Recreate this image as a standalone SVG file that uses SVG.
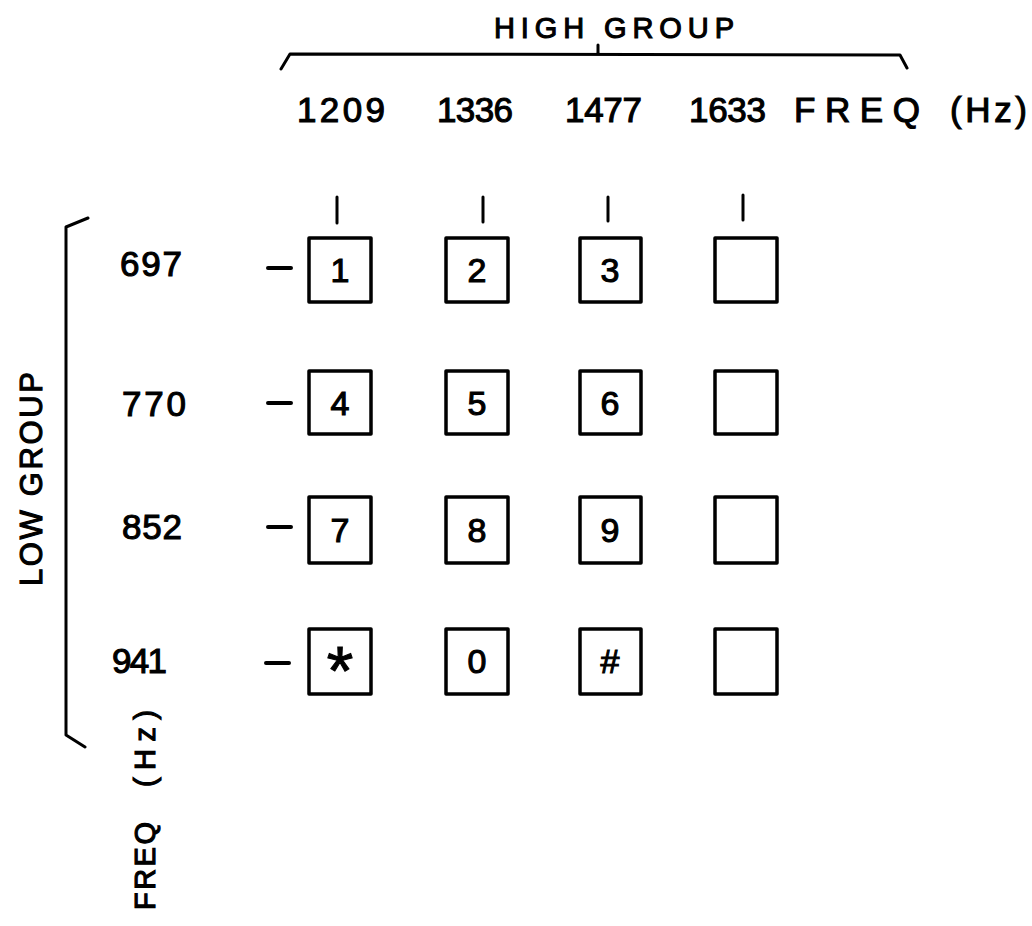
<svg xmlns="http://www.w3.org/2000/svg" width="1032" height="926" viewBox="0 0 1032 926">
<style>
.t{font-family:"Liberation Sans",Arial,sans-serif;fill:#000;stroke:#000;stroke-width:1.1px}
.k{stroke:#000;stroke-width:3.5;fill:none;stroke-linecap:round;stroke-linejoin:round}
.ln{stroke:#000;stroke-width:3;fill:none;stroke-linecap:round;stroke-linejoin:round}
.d{font-family:"Liberation Sans",Arial,sans-serif;fill:#000;stroke:#000;stroke-width:1.1px;text-anchor:middle}
</style>
<rect width="1032" height="926" fill="#fff"/>
<g id="high-group">
<text class="t" x="494" y="38" font-size="29" textLength="240" lengthAdjust="spacing">HIGH GROUP</text>
<path class="ln" d="M281 69 L290 54 L900 55 L907 68 M598 54 L598 45"/>
</g>
<g id="high-freqs" class="t" font-size="35">
<text x="297" y="122" textLength="88" lengthAdjust="spacing">1209</text>
<text x="437" y="122" textLength="76" lengthAdjust="spacing">1336</text>
<text x="565" y="122" textLength="77" lengthAdjust="spacing">1477</text>
<text x="689" y="122" textLength="77" lengthAdjust="spacing">1633</text>
<text x="794" y="122" textLength="126" lengthAdjust="spacing">FREQ</text>
<text x="950" y="122" textLength="77" lengthAdjust="spacing">(Hz)</text>
</g>
<g id="low-group">
<path class="ln" d="M88 218 L66 227 L66 735 L85 747"/>
<text class="t" font-size="31" transform="translate(42 586) rotate(-90)" textLength="214" lengthAdjust="spacing">LOW GROUP</text>
<text class="t" font-size="29" transform="translate(155 910) rotate(-90)" textLength="88" lengthAdjust="spacing">FREQ</text>
<text class="t" font-size="29" transform="translate(155 787) rotate(-90)" textLength="77" lengthAdjust="spacing">(Hz)</text>
</g>
<g id="low-freqs" class="t" font-size="35">
<text x="120" y="276" textLength="62" lengthAdjust="spacing">697</text>
<text x="122" y="416" textLength="64" lengthAdjust="spacing">770</text>
<text x="122" y="539" textLength="60" lengthAdjust="spacing">852</text>
<text x="112" y="673" textLength="55" lengthAdjust="spacing">941</text>
</g>
<g id="connectors" class="ln">
<path d="M337 197 L337 223 M483 197 L483 222 M608 197 L608 221 M743 195 L743 220"/>
<path stroke-width="4" d="M268 268 L291 268 M268 403 L291 403 M268 527 L291 527 M266 663 L289 663"/>
</g>
<g id="key-1"><rect class="k" x="309" y="238" width="62" height="64"/><text class="d" x="340" y="282" font-size="34">1</text></g>
<g id="key-2"><rect class="k" x="446" y="238" width="62" height="64"/><text class="d" x="477" y="282" font-size="34">2</text></g>
<g id="key-3"><rect class="k" x="580" y="238" width="61" height="64"/><text class="d" x="610" y="282" font-size="34">3</text></g>
<g id="key-A"><rect class="k" x="715" y="238" width="62" height="64"/></g>
<g id="key-4"><rect class="k" x="309" y="371" width="62" height="63"/><text class="d" x="340" y="415" font-size="34">4</text></g>
<g id="key-5"><rect class="k" x="446" y="371" width="62" height="63"/><text class="d" x="477" y="415" font-size="34">5</text></g>
<g id="key-6"><rect class="k" x="580" y="371" width="61" height="63"/><text class="d" x="610" y="415" font-size="34">6</text></g>
<g id="key-B"><rect class="k" x="715" y="371" width="62" height="63"/></g>
<g id="key-7"><rect class="k" x="309" y="497" width="62" height="66"/><text class="d" x="340" y="542" font-size="34">7</text></g>
<g id="key-8"><rect class="k" x="446" y="497" width="62" height="66"/><text class="d" x="477" y="542" font-size="34">8</text></g>
<g id="key-9"><rect class="k" x="580" y="497" width="61" height="66"/><text class="d" x="610" y="542" font-size="34">9</text></g>
<g id="key-C"><rect class="k" x="715" y="497" width="62" height="66"/></g>
<g id="key-star"><rect class="k" x="309" y="629" width="62" height="65"/><text class="d" x="340" y="694" font-size="68">*</text></g>
<g id="key-0"><rect class="k" x="446" y="629" width="62" height="65"/><text class="d" x="477" y="673" font-size="34">0</text></g>
<g id="key-hash"><rect class="k" x="580" y="629" width="61" height="65"/><text class="d" x="610" y="673" font-size="34">#</text></g>
<g id="key-D"><rect class="k" x="715" y="629" width="62" height="65"/></g>
</svg>
